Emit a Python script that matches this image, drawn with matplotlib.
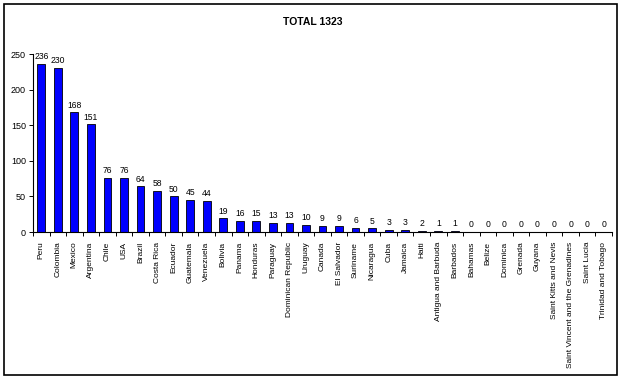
import matplotlib
matplotlib.use("Agg")
import matplotlib.pyplot as plt
from matplotlib.patches import Rectangle

countries = ["Peru", "Colombia", "Mexico", "Argentina", "Chile", "USA", "Brazil",
             "Costa Rica", "Ecuador", "Guatemala", "Venezuela", "Bolivia", "Panama",
             "Honduras", "Paraguay", "Dominican Republic", "Uruguay", "Canada",
             "El Salvador", "Suriname", "Nicaragua", "Cuba", "Jamaica", "Haiti",
             "Antigua and Barbuda", "Barbados", "Bahamas", "Belize", "Dominica",
             "Grenada", "Guyana", "Saint Kitts and Nevis",
             "Saint Vincent and the Grenadines", "Saint Lucia", "Trinidad and Tobago"]
values = [236, 230, 168, 151, 76, 76, 64, 58, 50, 45, 44, 19, 16, 15, 13, 13, 10, 9,
          9, 6, 5, 3, 3, 2, 1, 1, 0, 0, 0, 0, 0, 0, 0, 0, 0]
yticks = [0, 50, 100, 150, 200, 250]
title = "TOTAL 1323"

plt.rcParams['font.family'] = ['Liberation Sans', 'DejaVu Sans']

fig = plt.figure(figsize=(6.23, 3.79), dpi=100)
ax = fig.add_axes([33/623, 1-232/379, (612-33)/623, (232-54)/379])

n = len(countries)
x = list(range(n))
ax.bar(x, values, width=0.47, color="#0000FF", edgecolor="black", linewidth=0.6)
for xi, v in zip(x, values):
    ax.text(xi, v + 4, str(v), ha="center", va="bottom", fontsize=6.2)

ax.set_xlim(-0.5, n - 0.5)
ax.set_ylim(0, 250)
ax.set_yticks(yticks)
ax.set_yticklabels([str(t) for t in yticks], fontsize=6.5)
ax.set_xticks(x)
ax.set_xticklabels(countries, rotation=90, fontsize=6.0)
ax.tick_params(axis="x", length=0, pad=7)
ax.set_xticks([i - 0.5 for i in range(n + 1)], minor=True)
ax.tick_params(axis="x", which="minor", length=3, direction="out", width=0.7)
ax.tick_params(axis="y", length=3, direction="out", width=0.7, pad=2)
ax.spines["top"].set_visible(False)
ax.spines["right"].set_visible(False)
ax.spines["left"].set_linewidth(0.8)
ax.spines["bottom"].set_linewidth(0.8)

fig.text(313/623, 1-22/379, title, ha="center", va="center", fontsize=7.5, fontweight="bold")

fig.patches.append(Rectangle((4/623, 4/379), (617-4)/623, (375-4)/379,
                             transform=fig.transFigure, fill=False,
                             edgecolor="black", linewidth=1.2))

fig.savefig("out.png", dpi=100)
